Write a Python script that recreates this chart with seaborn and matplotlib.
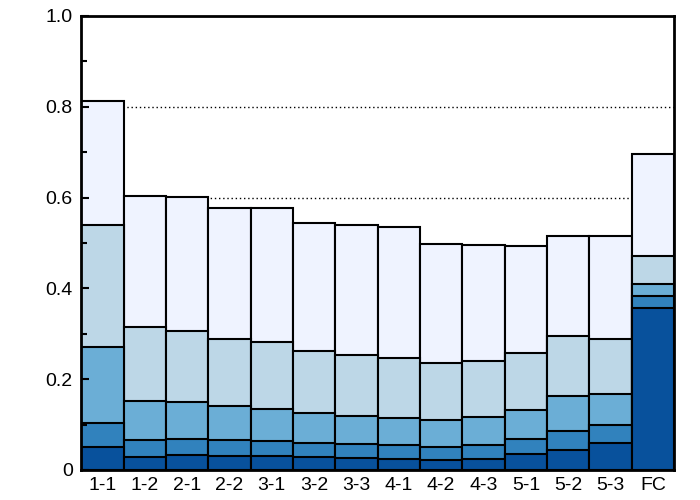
import matplotlib
matplotlib.use("Agg")
import matplotlib.pyplot as plt
import seaborn as sns
import pandas as pd
import numpy as np
from matplotlib.ticker import MultipleLocator, FuncFormatter

categories = ["1-1", "1-2", "2-1", "2-2", "3-1", "3-2", "3-3", "4-1", "4-2", "4-3", "5-1", "5-2", "5-3", "FC"]

# cumulative heights of each stacked layer (bottom layer first)
level1 = [0.050, 0.028, 0.034, 0.031, 0.031, 0.028, 0.027, 0.024, 0.023, 0.025, 0.035, 0.044, 0.059, 0.356]
level2 = [0.103, 0.066, 0.069, 0.066, 0.064, 0.059, 0.057, 0.054, 0.050, 0.056, 0.069, 0.087, 0.100, 0.383]
level3 = [0.272, 0.152, 0.149, 0.140, 0.135, 0.125, 0.119, 0.115, 0.110, 0.117, 0.133, 0.162, 0.168, 0.410]
level4 = [0.540, 0.316, 0.307, 0.289, 0.283, 0.262, 0.253, 0.247, 0.235, 0.241, 0.258, 0.295, 0.288, 0.471]
level5 = [0.813, 0.603, 0.601, 0.578, 0.576, 0.544, 0.540, 0.536, 0.498, 0.495, 0.493, 0.515, 0.515, 0.696]

colors = ["#08519c", "#3182bd", "#6baed6", "#bdd7e7", "#eff3ff"]
levels = [level1, level2, level3, level4, level5]

plt.rcParams["font.family"] = ["Liberation Sans", "DejaVu Sans"]
fig = plt.figure(figsize=(7, 5), dpi=100)
ax = fig.add_axes([0.116, 0.06, 0.847, 0.908])

for lvl, col in reversed(list(zip(levels, colors))):
    df = pd.DataFrame({"cat": categories, "val": lvl})
    sns.barplot(data=df, x="cat", y="val", color=col, width=1.0,
                edgecolor="black", linewidth=1.5, saturation=1, ax=ax, zorder=1)

for y in [0.2, 0.4, 0.6, 0.8]:
    ax.axhline(y, color="black", linestyle=(0, (1, 2)), linewidth=1.0, zorder=0.5)

ax.set_xlim(-0.5, len(categories) - 0.5)
ax.set_ylim(0, 1.0)
ax.yaxis.set_major_locator(MultipleLocator(0.2))
ax.yaxis.set_minor_locator(MultipleLocator(0.1))
ax.yaxis.set_major_formatter(FuncFormatter(lambda v, p: "0" if abs(v) < 1e-9 else f"{v:.1f}"))
ax.tick_params(axis="y", which="major", direction="in", length=6, width=1.5, labelsize=14, pad=6)
ax.tick_params(axis="y", which="minor", direction="in", length=4, width=1.5)
ax.tick_params(axis="x", length=0, labelsize=14, pad=5)
ax.yaxis.set_zorder(4)
ax.set_xlabel("")
ax.set_ylabel("")
for s in ax.spines.values():
    s.set_linewidth(2)
    s.set_color("black")
    s.set_zorder(5)

fig.savefig("out.png", dpi=100)
